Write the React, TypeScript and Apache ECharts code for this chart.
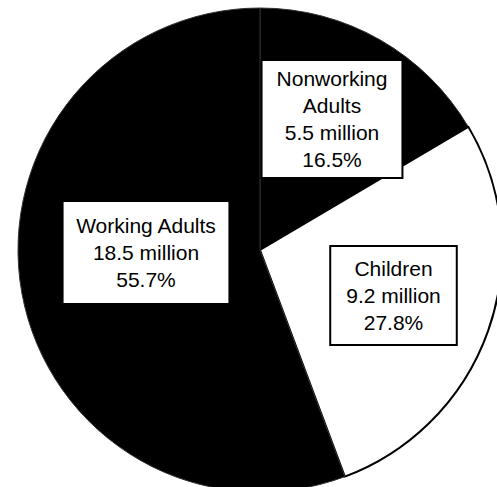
import React, { useEffect, useRef } from "react";
import * as echarts from "echarts";

const categories = ["Nonworking Adults", "Children", "Working Adults"];
const labelNames = ["Nonworking\nAdults", "Children", "Working Adults"];
const millions = ["5.5", "9.2", "18.5"];
const percents = [16.5, 27.8, 55.7];
const sliceColors = ["#000000", "#ffffff", "#000000"];
const sliceBorders = ["#333333", "#000000", "#333333"];
const sliceBorderWidths = [1, 2, 1];

// label box layout (centres in px) and paddings
const labelCentres = [
  [332, 119],
  [393.5, 295.5],
  [146, 252.5],
];
const labelPaddings = [
  [4, 14, 4, 14],
  [8, 15, 8, 15],
  [10, 12, 10, 12],
];

export default function App() {
  const ref = useRef<HTMLDivElement>(null);
  useEffect(() => {
    if (!ref.current) return;
    const chart = echarts.init(ref.current, undefined, { renderer: "svg" });
    chart.setOption({
      animation: false,
      backgroundColor: "#ffffff",
      series: [
        {
          type: "pie",
          center: [260, 250],
          radius: 242,
          startAngle: 90,
          clockwise: true,
          avoidLabelOverlap: false,
          labelLine: { show: false },
          emphasis: { disabled: true },
          label: {
            show: true,
            position: "inside",
            color: "#000",
            fontFamily: "Arial, 'Liberation Sans', sans-serif",
            fontSize: 21,
            lineHeight: 27,
            align: "center",
            backgroundColor: "#ffffff",
            borderColor: "#000000",
            borderWidth: 2,
            formatter: (p: any) =>
              `${labelNames[p.dataIndex]}\n${millions[p.dataIndex]} million\n${percents[p.dataIndex].toFixed(1)}%`,
          },
          labelLayout: (p: any) => ({
            x: labelCentres[p.dataIndex][0],
            y: labelCentres[p.dataIndex][1],
            align: "center",
            verticalAlign: "middle",
          }),
          data: categories.map((name, i) => ({
            name,
            value: percents[i],
            itemStyle: {
              color: sliceColors[i],
              borderColor: sliceBorders[i],
              borderWidth: sliceBorderWidths[i],
            },
            label: { padding: labelPaddings[i] },
          })),
        },
      ],
    });
    return () => chart.dispose();
  }, []);
  return (
    <div
      ref={ref}
      style={{ position: "fixed", left: 0, top: 0, width: 497, height: 487 }}
    />
  );
}
